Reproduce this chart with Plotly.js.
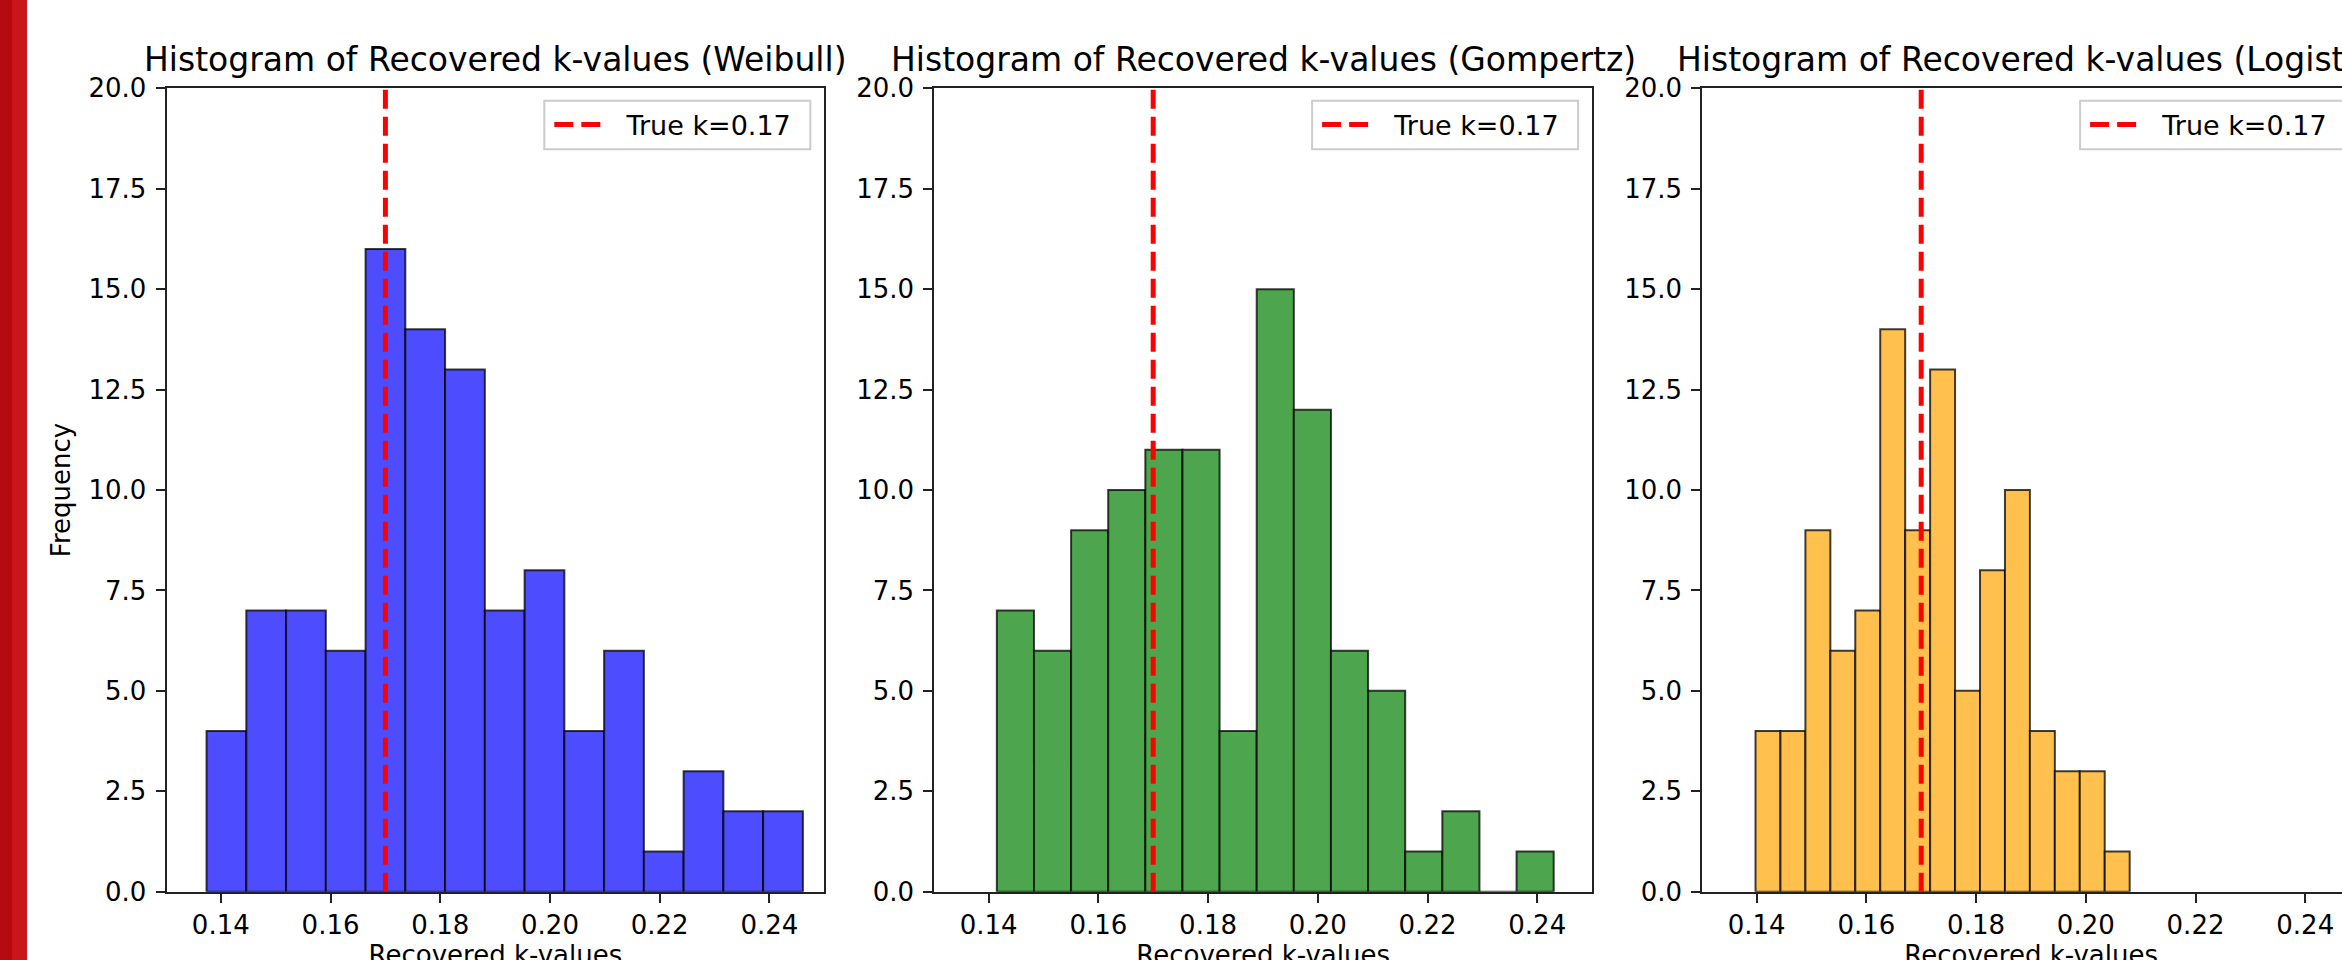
<!DOCTYPE html>
<html><head><meta charset="utf-8">
<script src="https://cdn.plot.ly/plotly-3.0.1.min.js"></script>
<style>html,body{margin:0;padding:0;overflow:hidden;background:#fff;width:2342px;height:960px}</style>
</head><body><div id="chart" style="width:2400px;height:1000px"></div>
<script>
// ---------- data ----------
const modelNames = ['Weibull', 'Gompertz', 'Logistic'];
const weibullCounts  = [4, 7, 7, 6, 16, 14, 13, 7, 8, 4, 6, 1, 3, 2, 2];
const gompertzCounts = [7, 6, 9, 10, 11, 11, 4, 15, 12, 6, 5, 1, 2, 0, 1];
const logisticCounts = [4, 4, 9, 6, 7, 14, 9, 13, 5, 8, 10, 4, 3, 3, 1];
const weibullRange  = [0.1374, 0.2461];
const gompertzRange = [0.1415, 0.2430];
const logisticRange = [0.1398, 0.2080];
const trueK = 0.17;
const xTickVals = [0.14, 0.16, 0.18, 0.20, 0.22, 0.24];
const xTickText = ['0.14', '0.16', '0.18', '0.20', '0.22', '0.24'];
const yTickVals = [0, 2.5, 5, 7.5, 10, 12.5, 15, 17.5, 20];
const yTickText = ['0.0', '2.5', '5.0', '7.5', '10.0', '12.5', '15.0', '17.5', '20.0'];
const xAxisRange = [0.1301, 0.2500];
const yAxisRange = [0, 20];

// ---------- styles / layout ----------
const W = 2400, H = 1000;
const FONT = 'DejaVu Sans, Liberation Sans, sans-serif';
const faceColors = ['#4d4dff', '#4da64d', '#ffc04d'];
const panelLeft = [166.5, 934.3, 1702.3];
const panelWidth = 657.8;
const plotTop = 88.3, plotBottom = 891.7;
const legBoxW = 266, legBoxTop = 100.7, legBoxBottom = 149.3, legInset = 14;

const countsList = [weibullCounts, gompertzCounts, logisticCounts];
const rangeList = [weibullRange, gompertzRange, logisticRange];

const traces = [];
const layout = {
  width: W, height: H,
  margin: {l: 0, r: 0, t: 0, b: 0},
  paper_bgcolor: '#fff', plot_bgcolor: '#fff',
  font: {family: FONT, size: 26, color: '#000'},
  showlegend: true,
  annotations: [],
  shapes: [
    {type: 'rect', xref: 'paper', yref: 'paper', x0: 0, x1: 12 / W, y0: 0, y1: 1, fillcolor: '#b40a10', line: {width: 0}, layer: 'above'},
    {type: 'rect', xref: 'paper', yref: 'paper', x0: 12 / W, x1: 27 / W, y0: 0, y1: 1, fillcolor: '#c8161a', line: {width: 0}, layer: 'above'}
  ]
};

modelNames.forEach((name, i) => {
  const counts = countsList[i];
  const [lo, hi] = rangeList[i];
  const n = counts.length;
  const bw = (hi - lo) / n;
  const centers = counts.map((_, j) => lo + bw * (j + 0.5));
  const ax = i === 0 ? '' : String(i + 1);
  const xa = 'x' + ax, ya = 'y' + ax;
  const legName = i === 0 ? 'legend' : 'legend' + (i + 1);
  traces.push({
    type: 'bar', x: centers, y: counts, width: counts.map(() => bw),
    xaxis: xa, yaxis: ya, showlegend: false, hoverinfo: 'x+y',
    marker: {color: faceColors[i], line: {color: 'rgba(0,0,0,0.75)', width: 2}}
  });
  traces.push({
    type: 'scatter', mode: 'lines', x: [trueK, trueK], y: yAxisRange,
    xaxis: xa, yaxis: ya, name: '\u00a0\u00a0True k=' + trueK,
    legend: legName,
    line: {color: '#ff0000', width: 5, dash: '19px,8px'}
  });
  const axisRight = panelLeft[i] + panelWidth;
  const x0 = panelLeft[i] / W, x1 = axisRight / W;
  layout['xaxis' + ax] = {
    domain: [x0, x1], anchor: ya, range: xAxisRange,
    tickmode: 'array', tickvals: xTickVals, ticktext: xTickText,
    ticks: 'outside', ticklen: 9, tickwidth: 2, tickcolor: '#222',
    showline: true, mirror: true, linecolor: '#222', linewidth: 2,
    showgrid: false, zeroline: false,
    tickfont: {size: 26, family: FONT, color: '#000'},
    title: {text: 'Recovered k-values', font: {size: 26, family: FONT, color: '#000'}, standoff: 6}
  };
  layout['yaxis' + ax] = {
    domain: [(H - plotBottom) / H, (H - plotTop) / H], anchor: xa, range: yAxisRange,
    tickmode: 'array', tickvals: yTickVals, ticktext: yTickText,
    ticks: 'outside', ticklen: 9, tickwidth: 2, tickcolor: '#222',
    ticklabelstandoff: 4,
    showline: true, mirror: true, linecolor: '#222', linewidth: 2,
    showgrid: false, zeroline: false,
    tickfont: {size: 26, family: FONT, color: '#000'},
    title: i === 0 ? {text: 'Frequency', font: {size: 26, family: FONT, color: '#000'}, standoff: 10} : {text: ''}
  };
  const boxRight = axisRight - legInset, boxLeft = boxRight - legBoxW;
  layout.shapes.push({
    type: 'rect', xref: 'paper', yref: 'paper',
    x0: boxLeft / W, x1: boxRight / W, y0: (H - legBoxBottom) / H, y1: (H - legBoxTop) / H,
    fillcolor: 'rgba(255,255,255,0.8)', line: {color: '#cccccc', width: 2}, layer: 'above'
  });
  layout[legName] = {
    x: (boxLeft + 5) / W, xanchor: 'left', xref: 'paper',
    y: (H - (legBoxTop + legBoxBottom) / 2) / H, yanchor: 'middle', yref: 'paper',
    bgcolor: 'rgba(0,0,0,0)', borderwidth: 0,
    font: {size: 27, family: FONT, color: '#000'}, itemwidth: 50
  };
  layout.annotations.push({
    text: 'Histogram of Recovered k-values (' + name + ')',
    xref: xa + ' domain', yref: ya + ' domain', x: 0.5, y: 1,
    xanchor: 'center', yanchor: 'bottom', yshift: 7, showarrow: false,
    font: {size: 33, family: FONT, color: '#000'}
  });
});

Plotly.newPlot('chart', traces, layout, {displayModeBar: false, staticPlot: true});
</script></body></html>
